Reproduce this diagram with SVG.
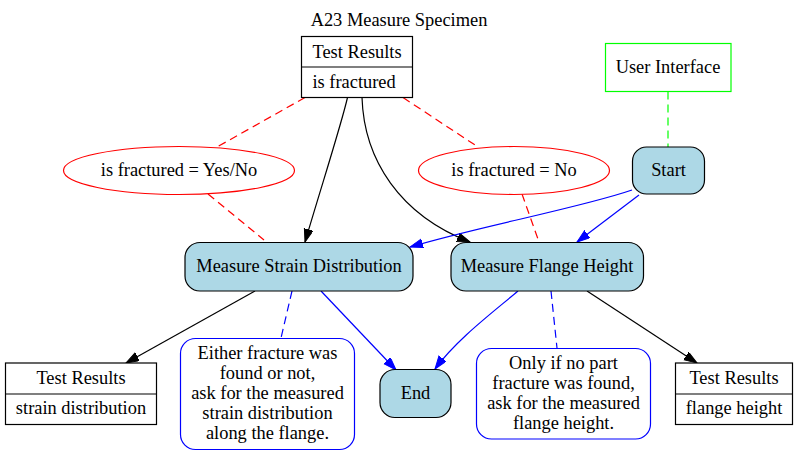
<svg xmlns="http://www.w3.org/2000/svg" width="798" height="455" viewBox="0 0 798 455">
<style>
.t{font-family:"Liberation Serif","Times New Roman",serif;font-size:18.4px;fill:#000}
.c{text-anchor:middle}
.rec{fill:#fff;stroke:#000;stroke-width:1.2}
.act{fill:#add8e6;stroke:#000;stroke-width:1.2}
.note{fill:#fff;stroke:#0000ff;stroke-width:1.2}
.cond{fill:#fff;stroke:#ff0000;stroke-width:1.2}
.ui{fill:#fff;stroke:#00ff00;stroke-width:1.2}
.e{fill:none;stroke-width:1.2}
.blk{stroke:#000}
.blu{stroke:#0000ff}
.dr{stroke:#ff0000;stroke-dasharray:8,5}
.dg{stroke:#00ff00;stroke-dasharray:8,5}
.db{stroke:#0000ff;stroke-dasharray:8,5}
</style>
<defs>
<marker id="ab" markerUnits="userSpaceOnUse" markerWidth="14" markerHeight="10" refX="13" refY="4.5" orient="auto"><path d="M0,0 L13,4.5 L0,9 z" fill="#000" stroke="#000"/></marker>
<marker id="au" markerUnits="userSpaceOnUse" markerWidth="14" markerHeight="10" refX="13" refY="4.5" orient="auto"><path d="M0,0 L13,4.5 L0,9 z" fill="#0000ff" stroke="#0000ff"/></marker>
</defs>
<rect width="798" height="455" fill="#fff"/>
<g id="title">
<text class="t c" x="399" y="26">A23 Measure Specimen</text>
</g>
<g id="connectors">
<path class="e blk" d="M347.5,97.5 C342,122 324,178 305,242" marker-end="url(#ab)"/>
<path class="e blk" d="M362,97.5 C364,160 400,215 470,242" marker-end="url(#ab)"/>
<path class="e blu" d="M632,190 C580,208 480,226 410,247" marker-end="url(#au)"/>
<path class="e blu" d="M639,195 L577,242" marker-end="url(#au)"/>
<path class="e blk" d="M255,291 L126,363" marker-end="url(#ab)"/>
<path class="e blu" d="M321,291 L396,370" marker-end="url(#au)"/>
<path class="e blu" d="M518,291 C492,313 456,340 435,369" marker-end="url(#au)"/>
<path class="e blk" d="M587,291 L697,363" marker-end="url(#ab)"/>
<path class="e dr" d="M305,97.5 L217,147"/>
<path class="e dr" d="M208,194 L264,240"/>
<path class="e dr" d="M403,97.5 L478,147"/>
<path class="e dr" d="M522,194 L539,242"/>
<path class="e dg" d="M668,91.5 L668,147"/>
<path class="e db" d="M292,291 L281,338"/>
<path class="e db" d="M551,291 L557,348"/>
</g>
<g id="tr_fractured">
<rect class="rec" x="301.5" y="36.5" width="111" height="61"/>
<line class="rec" x1="301.5" y1="67" x2="412.5" y2="67"/>
<text class="t" x="312.5" y="57.5">Test Results</text>
<text class="t" x="312.5" y="87.5">is fractured</text>
</g>
<g id="user_interface">
<rect class="ui" x="605.5" y="43.5" width="125.5" height="48"/>
<text class="t c" x="668" y="72.5">User Interface</text>
</g>
<g id="start">
<rect class="act" x="632.5" y="147" width="72" height="47" rx="14"/>
<text class="t c" x="668.5" y="176">Start</text>
</g>
<g id="cond_yesno">
<ellipse class="cond" cx="179" cy="170.5" rx="115.5" ry="24"/>
<text class="t c" x="179" y="176">is fractured = Yes/No</text>
</g>
<g id="cond_no">
<ellipse class="cond" cx="514" cy="170.5" rx="95.5" ry="24"/>
<text class="t c" x="514" y="176">is fractured = No</text>
</g>
<g id="measure_strain">
<rect class="act" x="185" y="242.5" width="228" height="48.5" rx="15"/>
<text class="t c" x="299" y="271.5">Measure Strain Distribution</text>
</g>
<g id="measure_flange">
<rect class="act" x="451" y="242.5" width="192.5" height="48.5" rx="15"/>
<text class="t c" x="547" y="271.5">Measure Flange Height</text>
</g>
<g id="end">
<rect class="act" x="380" y="369.5" width="71" height="48" rx="15"/>
<text class="t c" x="415.5" y="399">End</text>
</g>
<g id="tr_strain">
<rect class="rec" x="5.5" y="363" width="151" height="61.5"/>
<line class="rec" x1="5.5" y1="394" x2="156.5" y2="394"/>
<text class="t c" x="81" y="384">Test Results</text>
<text class="t c" x="81" y="413.5">strain distribution</text>
</g>
<g id="note_strain">
<rect class="note" x="180.5" y="338.5" width="174" height="111" rx="15"/>
<text class="t c" x="267.5" y="359">Either fracture was</text>
<text class="t c" x="267.5" y="379">found or not,</text>
<text class="t c" x="267.5" y="398.5">ask for the measured</text>
<text class="t c" x="267.5" y="418.5">strain distribution</text>
<text class="t c" x="267.5" y="438.5">along the flange.</text>
</g>
<g id="note_flange">
<rect class="note" x="476.5" y="348.5" width="174" height="90.5" rx="15"/>
<text class="t c" x="563.5" y="368.5">Only if no part</text>
<text class="t c" x="563.5" y="388.5">fracture was found,</text>
<text class="t c" x="563.5" y="408.5">ask for the measured</text>
<text class="t c" x="563.5" y="428.5">flange height.</text>
</g>
<g id="tr_flange">
<rect class="rec" x="675.5" y="363" width="117" height="61.5"/>
<line class="rec" x1="675.5" y1="394" x2="792.5" y2="394"/>
<text class="t c" x="734" y="384">Test Results</text>
<text class="t c" x="734" y="413.5">flange height</text>
</g>
</svg>
